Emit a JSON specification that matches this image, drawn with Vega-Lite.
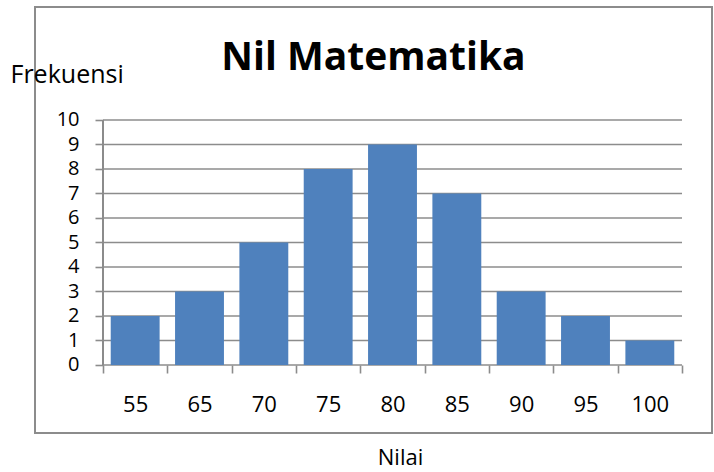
{
  "$schema": "https://vega.github.io/schema/vega-lite/v6.json",
  "width": 677,
  "height": 426,
  "autosize": {"type": "none"},
  "padding": {"left": 35, "top": 7, "right": 2, "bottom": 39},
  "background": "white",
  "config": {
    "view": {"stroke": "#8c8c8c", "strokeWidth": 2},
    "font": "Open Sans",
    "axisX": {
      "orient": "bottom",
      "offset": -68,
      "domain": false,
      "grid": false,
      "tickBand": "extent",
      "tickSize": 8,
      "tickColor": "#8c8c8c",
      "tickWidth": 1.6,
      "labelAngle": 0,
      "labelFont": "Open Sans",
      "labelFontSize": 22,
      "labelColor": "black",
      "labelBaseline": "middle",
      "labelPadding": 31,
      "titleFont": "Open Sans",
      "titleFontSize": 22,
      "titleFontWeight": "normal",
      "titleColor": "black",
      "titleX": 365,
      "titleY": 99,
      "titleAlign": "center",
      "titleBaseline": "alphabetic"
    },
    "axisY": {
      "orient": "left",
      "offset": -68,
      "domain": false,
      "grid": false,
      "tickSize": 8,
      "tickColor": "#8c8c8c",
      "tickWidth": 1.6,
      "labelFont": "Open Sans",
      "labelFontSize": 20,
      "labelColor": "black",
      "labelPadding": 16,
      "titleAngle": 0,
      "titleFont": "Open Sans",
      "titleFontSize": 25,
      "titleFontWeight": "normal",
      "titleColor": "black",
      "titleAlign": "left",
      "titleBaseline": "alphabetic",
      "titleX": -93,
      "titleY": 75
    }
  },
  "title": {
    "text": "Nil Matematika",
    "font": "Open Sans",
    "fontSize": 39,
    "fontWeight": "bold",
    "color": "black",
    "anchor": "middle",
    "frame": "group",
    "baseline": "alphabetic",
    "offset": -63,
    "dy": 39
  },
  "datasets": {
    "bars": [
      {"nilai": "55", "frekuensi": 2},
      {"nilai": "65", "frekuensi": 3},
      {"nilai": "70", "frekuensi": 5},
      {"nilai": "75", "frekuensi": 8},
      {"nilai": "80", "frekuensi": 9},
      {"nilai": "85", "frekuensi": 7},
      {"nilai": "90", "frekuensi": 3},
      {"nilai": "95", "frekuensi": 2},
      {"nilai": "100", "frekuensi": 1}
    ],
    "grid": [
      {"v": 0}, {"v": 1}, {"v": 2}, {"v": 3}, {"v": 4}, {"v": 5},
      {"v": 6}, {"v": 7}, {"v": 8}, {"v": 9}, {"v": 10}
    ]
  },
  "layer": [
    {
      "data": {"name": "grid"},
      "mark": {"type": "rule", "color": "#8c8c8c", "strokeWidth": 1.6},
      "encoding": {
        "y": {"field": "v", "type": "quantitative", "axis": {"title": "Frekuensi", "values": [0, 1, 2, 3, 4, 5, 6, 7, 8, 9, 10]}},
        "x": {"datum": "55", "type": "nominal", "bandPosition": 0, "axis": {"title": "Nilai"}},
        "x2": {"datum": "100", "bandPosition": 1}
      }
    },
    {
      "data": {"name": "grid"},
      "mark": {"type": "rule", "color": "#8c8c8c", "strokeWidth": 1.6},
      "encoding": {
        "x": {"datum": "55", "type": "nominal", "bandPosition": 0, "axis": {"title": "Nilai"}},
        "y": {"datum": 0, "type": "quantitative", "axis": {"title": "Frekuensi", "values": [0, 1, 2, 3, 4, 5, 6, 7, 8, 9, 10]}},
        "y2": {"datum": 10}
      }
    },
    {
      "data": {"name": "bars"},
      "mark": {"type": "bar", "color": "#4F81BD", "width": {"band": 0.76}},
      "encoding": {
        "x": {
          "field": "nilai",
          "type": "nominal",
          "scale": {
            "domain": ["55", "65", "70", "75", "80", "85", "90", "95", "100"],
            "paddingInner": 0,
            "paddingOuter": 0.7617,
            "align": 0.6939
          },
          "axis": {"title": "Nilai"}
        },
        "y": {
          "field": "frekuensi",
          "type": "quantitative",
          "scale": {"domain": [-2.7755, 14.612], "nice": false, "zero": false},
          "axis": {"title": "Frekuensi", "values": [0, 1, 2, 3, 4, 5, 6, 7, 8, 9, 10]}
        },
        "y2": {"datum": 0}
      }
    }
  ]
}
